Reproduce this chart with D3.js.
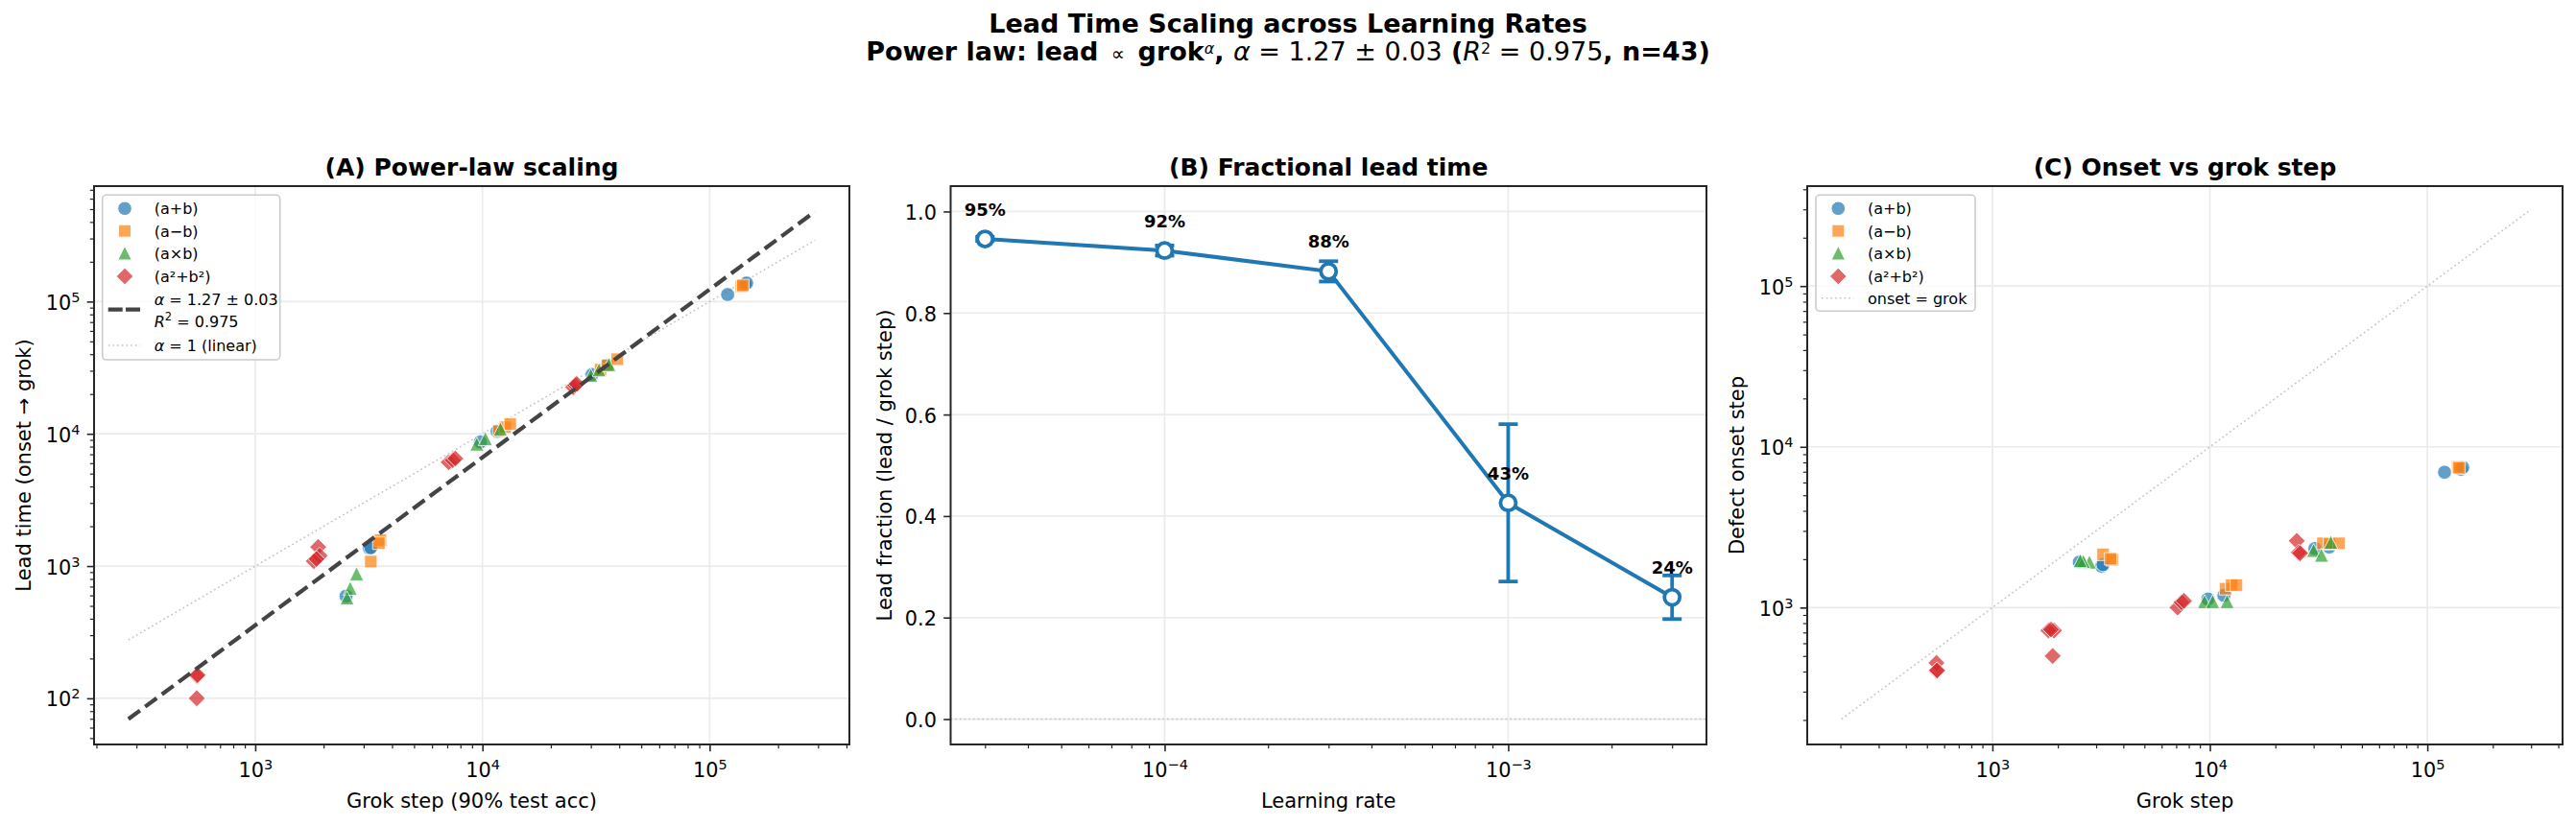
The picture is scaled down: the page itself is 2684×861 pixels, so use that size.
<!DOCTYPE html>
<html><head><meta charset="utf-8">
<script src="https://cdn.jsdelivr.net/npm/d3@7"></script>
<style>
body{margin:0;background:#fff;}
svg{display:block;font-family:"DejaVu Sans",sans-serif;}
</style></head><body>
<svg id="chart" width="2684" height="861"></svg>
<script>
// ---------------- DATA ----------------
const opNames = ["(a+b)", "(a\u2212b)", "(a\u00d7b)", "(a\u00b2+b\u00b2)"];
const opColors = ["#1f77b4", "#ff7f0e", "#2ca02c", "#d62728"];

// one entry per grokked run (n = 43)
const runOp = [0,0,0,1,1,
  3,3,3,0,0,2,2,2,1,1,1,
  3,3,3,2,2,2,0,0,1,1,1,
  3,3,3,3,2,2,2,0,0,0,1,1,1,
  3,3,3];
const runLR = [3e-5,3e-5,3e-5,3e-5,3e-5,
  1e-4,1e-4,1e-4,1e-4,1e-4,1e-4,1e-4,1e-4,1e-4,1e-4,1e-4,
  3e-4,3e-4,3e-4,3e-4,3e-4,3e-4,3e-4,3e-4,3e-4,3e-4,3e-4,
  1e-3,1e-3,1e-3,1e-3,1e-3,1e-3,1e-3,1e-3,1e-3,1e-3,1e-3,1e-3,1e-3,
  3e-3,3e-3,3e-3];
const runGrok = [120000,143000,145500,138000,140000,
  25100,25600,26000,30400,35400,30000,32600,36000,33100,35500,39200,
  7100,7400,7600,9450,10300,12000,9800,11600,11800,12600,13250,
  1893,1920,1810,1860,2793,2618,2535,2510,3177,3227,3227,3556,3500,
  553,553,557];
const runOnset = [6950,7250,7450,7500,7400,
  2600,2200,2180,2330,2380,2270,2120,2550,2510,2500,2510,
  1000,1080,1100,1090,1090,1090,1130,1190,1310,1380,1380,
  500,720,720,730,1919,1938,1960,1918,1809,1850,2145,1983,2011,
  453,405,407];

// panel B: mean lead fraction per learning rate
const lrValues = [3e-5, 1e-4, 3e-4, 1e-3, 3e-3];
const fracMean = [0.946, 0.923, 0.882, 0.426, 0.240];
const fracErr  = [0.004, 0.010, 0.020, 0.155, 0.043];

// power-law fit
const fitAlpha = 1.27, fitAlphaErr = 0.03, fitLogC = -1.258, fitR2 = 0.975;

// ---------------- LAYOUT ----------------
const svg = d3.select("#chart");
const TOP = 194, BOT = 776;
const PA = {l: 98, r: 885}, PB = {l: 990.5, r: 1778}, PC = {l: 1883, r: 2670};
const SPINE = "#262626", GRID = "#ebebeb";
const FS_TICK = 20.8;

const runs = runOp.map((o, i) => ({op: o, lr: runLR[i], grok: runGrok[i], onset: runOnset[i], lead: runGrok[i] - runOnset[i]}))
  .sort((a, b) => a.op - b.op);

function logDomain(vals) {
  const lo = Math.log10(d3.min(vals)), hi = Math.log10(d3.max(vals)), m = (hi - lo) * 0.05;
  return [10 ** (lo - m), 10 ** (hi + m)];
}
function majorTicks(dom) {
  const out = [];
  for (let e = Math.ceil(Math.log10(dom[0]) - 1e-9); e <= Math.floor(Math.log10(dom[1]) + 1e-9); e++) out.push(10 ** e);
  return out;
}
function minorTicks(dom) {
  const out = [];
  for (let e = Math.floor(Math.log10(dom[0])); e <= Math.ceil(Math.log10(dom[1])); e++)
    for (let k = 2; k <= 9; k++) { const v = k * 10 ** e; if (v >= dom[0] && v <= dom[1]) out.push(v); }
  return out;
}
function powLabels(sel) {
  sel.each(function () {
    const t = d3.select(this); const e = +t.text(); t.text(null);
    t.append("tspan").text("10");
    t.append("tspan").attr("dy", -8).attr("font-size", 14.5).text(e < 0 ? "\u2212" + (-e) : String(e));
  });
}
function styleAxis(g) {
  g.attr("font-family", null).attr("font-size", FS_TICK).attr("color", "#000");
  g.select(".domain").remove();
  g.selectAll(".tick line").attr("stroke", SPINE).attr("stroke-width", 1.6);
}
function xAxis(scale) {
  const dom = scale.domain();
  svg.append("g").attr("transform", `translate(0,${BOT})`)
    .call(d3.axisBottom(scale).tickValues(minorTicks(dom)).tickSize(4.2).tickFormat(""))
    .call(styleAxis).selectAll(".tick line").attr("stroke-width", 1.2);
  const g = svg.append("g").attr("transform", `translate(0,${BOT})`)
    .call(d3.axisBottom(scale).tickValues(majorTicks(dom)).tickSize(7.3).tickPadding(7.3)
      .tickFormat(v => Math.round(Math.log10(v))))
    .call(styleAxis);
  g.selectAll("text").attr("y", 34).attr("dy", null).call(powLabels);
}
function yAxis(scale, left, isLog, ticks, fmt) {
  const dom = scale.domain();
  if (isLog) {
    svg.append("g").attr("transform", `translate(${left},0)`)
      .call(d3.axisLeft(scale).tickValues(minorTicks(dom)).tickSize(4.2).tickFormat(""))
      .call(styleAxis).selectAll(".tick line").attr("stroke-width", 1.2);
    const g = svg.append("g").attr("transform", `translate(${left},0)`)
      .call(d3.axisLeft(scale).tickValues(majorTicks(dom)).tickSize(7.3).tickPadding(7.3)
        .tickFormat(v => Math.round(Math.log10(v))))
      .call(styleAxis);
    g.selectAll("text").attr("dy", 8).call(powLabels);
  } else {
    const g = svg.append("g").attr("transform", `translate(${left},0)`)
      .call(d3.axisLeft(scale).tickValues(ticks).tickSize(7.3).tickPadding(7.3).tickFormat(fmt))
      .call(styleAxis);
    g.selectAll("text").attr("dy", 8);
  }
}
function gridX(scale, vals) {
  svg.append("g").selectAll("line").data(vals).join("line")
    .attr("x1", d => scale(d)).attr("x2", d => scale(d)).attr("y1", TOP).attr("y2", BOT)
    .attr("stroke", GRID).attr("stroke-width", 1.7);
}
function gridY(scale, p, vals) {
  svg.append("g").selectAll("line").data(vals).join("line")
    .attr("y1", d => scale(d)).attr("y2", d => scale(d)).attr("x1", p.l).attr("x2", p.r)
    .attr("stroke", GRID).attr("stroke-width", 1.7);
}
function frame(p) {
  svg.append("rect").attr("x", p.l).attr("y", TOP).attr("width", p.r - p.l).attr("height", BOT - TOP)
    .attr("fill", "none").attr("stroke", SPINE).attr("stroke-width", 2);
}
function panelTitle(p, txt) {
  svg.append("text").attr("x", (p.l + p.r) / 2).attr("y", 183).attr("text-anchor", "middle")
    .attr("font-size", 25).attr("font-weight", "bold").text(txt);
}
function xLabel(p, txt) {
  svg.append("text").attr("x", (p.l + p.r) / 2).attr("y", 842).attr("text-anchor", "middle")
    .attr("font-size", 21).text(txt);
}
function yLabel(x, txt) {
  svg.append("text").attr("transform", `translate(${x},${(TOP + BOT) / 2}) rotate(-90)`)
    .attr("text-anchor", "middle").attr("dominant-baseline", "central").attr("font-size", 21).text(txt);
}
function shapePath(k) {
  switch (k) {
    case 0: return d3.symbol(d3.symbolCircle, Math.PI * 7.3 * 7.3)();
    case 1: return "M-6.5,-6.5H6.5V6.5H-6.5Z";
    case 2: return "M0,-7.3L7.3,7.3H-7.3Z";
    default: return "M0,-8.8L8.8,0L0,8.8L-8.8,0Z";
  }
}
function scatter(xs, ys, xKey, yKey) {
  svg.append("g").selectAll("path").data(runs).join("path")
    .attr("transform", d => `translate(${xs(d[xKey])},${ys(d[yKey])})`)
    .attr("d", d => shapePath(d.op))
    .attr("fill", d => opColors[d.op]).attr("fill-opacity", 0.7)
    .attr("stroke", "#fff").attr("stroke-opacity", 0.8).attr("stroke-width", 1);
}
function legend(x0, y0, w, h, extra) {
  const g = svg.append("g");
  g.append("rect").attr("x", x0).attr("y", y0).attr("width", w).attr("height", h).attr("rx", 4)
    .attr("fill", "#fff").attr("fill-opacity", 0.8).attr("stroke", "#cccccc").attr("stroke-width", 1.6);
  const rows = [14, 37.4, 60.4, 84.7];
  opNames.forEach((n, i) => {
    g.append("path").attr("transform", `translate(${x0 + 23.3},${y0 + rows[i]})`).attr("d", shapePath(i))
      .attr("fill", opColors[i]).attr("fill-opacity", 0.7).attr("stroke", "#fff").attr("stroke-width", 1);
    g.append("text").attr("x", x0 + 54).attr("y", y0 + rows[i]).attr("dy", 5.8).attr("font-size", 16).text(n);
  });
  extra(g);
}

// ---------------- SUPTITLE ----------------
svg.append("text").attr("x", 1342).attr("y", 34).attr("text-anchor", "middle").attr("font-size", 27)
  .attr("font-weight", "bold").text("Lead Time Scaling across Learning Rates");
{
  // second line laid out segment by segment so superscripts sit beside their bases
  const segs = [
    {t: "Power law: lead\u2002", b: true},
    {t: "\u221d", fs: 20},
    {t: "\u2002grok", b: true},
    {t: "\u03b1", i: true, fs: 16, sup: true},
    {t: ", ", b: true},
    {t: "\u03b1", i: true},
    {t: " = " + fitAlpha.toFixed(2) + " \u00b1 " + fitAlphaErr.toFixed(2)},
    {t: " (", b: true},
    {t: "R", i: true},
    {t: "2", fs: 16, sup: true},
    {t: " = " + fitR2.toFixed(3)},
    {t: ", n=" + runs.length + ")", b: true}
  ];
  const g = svg.append("g");
  const els = segs.map(s => g.append("text").attr("y", s.sup ? 56 : 63)
    .attr("font-size", s.fs || 27).attr("font-weight", s.b ? "bold" : "normal")
    .attr("font-style", s.i ? "italic" : "normal").attr("xml:space", "preserve")
    .style("white-space", "pre").text(s.t));
  const widths = els.map(e => e.node().getComputedTextLength());
  let x = 1342 - d3.sum(widths) / 2;
  els.forEach((e, k) => { e.attr("x", x); x += widths[k]; });
}

// ---------------- PANEL A ----------------
{
  const gLo = d3.min(runs, d => d.grok) * 0.5, gHi = d3.max(runs, d => d.grok) * 2;
  const fitLine = [gLo, gHi].map(g => ({x: g, y: 10 ** (fitLogC + fitAlpha * Math.log10(g))}));
  const linLine = [gLo, gHi].map(g => ({x: g, y: g}));
  const xs = d3.scaleLog().domain(logDomain([gLo, gHi, ...runs.map(d => d.grok)])).range([PA.l, PA.r]);
  const ys = d3.scaleLog().domain(logDomain([...fitLine.map(d => d.y), ...linLine.map(d => d.y), ...runs.map(d => d.lead)]))
    .range([BOT, TOP]);
  gridX(xs, majorTicks(xs.domain())); gridY(ys, PA, majorTicks(ys.domain()));
  const line = d3.line().x(d => xs(d.x)).y(d => ys(d.y));
  svg.append("path").attr("d", line(linLine)).attr("fill", "none").attr("stroke", "#c4c4c4")
    .attr("stroke-width", 1.6).attr("stroke-dasharray", "1.7,3");
  scatter(xs, ys, "grok", "lead");
  svg.append("path").attr("d", line(fitLine)).attr("fill", "none").attr("stroke", "#444444")
    .attr("stroke-width", 4.2).attr("stroke-dasharray", "15,6.7");
  frame(PA);
  xAxis(xs); yAxis(ys, PA.l, true);
  panelTitle(PA, "(A) Power-law scaling");
  xLabel(PA, "Grok step (90% test acc)");
  yLabel(25, "Lead time (onset \u2192 grok)");
  legend(106.7, 203.3, 185, 171.7, g => {
    const x0 = 106.7, y0 = 203.3;
    g.append("line").attr("x1", x0 + 6).attr("x2", x0 + 39.3).attr("y1", y0 + 119.4).attr("y2", y0 + 119.4)
      .attr("stroke", "#444444").attr("stroke-width", 4.2).attr("stroke-dasharray", "15,3.3");
    const t1 = g.append("text").attr("x", x0 + 54).attr("y", y0 + 108.4).attr("dy", 5.8).attr("font-size", 16);
    t1.append("tspan").attr("font-style", "italic").text("\u03b1");
    t1.append("tspan").text(" = " + fitAlpha.toFixed(2) + " \u00b1 " + fitAlphaErr.toFixed(2));
    const t2 = g.append("text").attr("x", x0 + 54).attr("y", y0 + 131.4).attr("dy", 5.8).attr("font-size", 16);
    t2.append("tspan").attr("font-style", "italic").text("R");
    t2.append("tspan").attr("font-size", 11.5).attr("dy", -7).text("2");
    t2.append("tspan").attr("dy", 7).text(" = " + fitR2.toFixed(3));
    g.append("line").attr("x1", x0 + 6).attr("x2", x0 + 39.3).attr("y1", y0 + 156.7).attr("y2", y0 + 156.7)
      .attr("stroke", "#c4c4c4").attr("stroke-width", 1.6).attr("stroke-dasharray", "1.7,3");
    const t3 = g.append("text").attr("x", x0 + 54).attr("y", y0 + 156.7).attr("dy", 5.8).attr("font-size", 16);
    t3.append("tspan").attr("font-style", "italic").text("\u03b1");
    t3.append("tspan").text(" = 1 (linear)");
  });
}

// ---------------- PANEL B ----------------
{
  const xs = d3.scaleLog().domain(logDomain(lrValues)).range([PB.l, PB.r]);
  const ys = d3.scaleLinear().domain([-0.05, 1.05]).range([BOT, TOP]);
  const yt = [0, 0.2, 0.4, 0.6, 0.8, 1.0];
  gridX(xs, majorTicks(xs.domain())); gridY(ys, PB, yt);
  svg.append("line").attr("x1", PB.l).attr("x2", PB.r).attr("y1", ys(0)).attr("y2", ys(0))
    .attr("stroke", "#c4c4c4").attr("stroke-width", 1.6).attr("stroke-dasharray", "1.7,3");
  const pts = lrValues.map((lr, i) => ({lr, m: fracMean[i], e: fracErr[i]}));
  const col = "#1f77b4";
  const eb = svg.append("g").attr("stroke", col).attr("stroke-width", 3.8);
  eb.selectAll(".v").data(pts).join("line").attr("x1", d => xs(d.lr)).attr("x2", d => xs(d.lr))
    .attr("y1", d => ys(d.m - d.e)).attr("y2", d => ys(d.m + d.e));
  eb.selectAll(".c1").data(pts).join("line").attr("x1", d => xs(d.lr) - 10).attr("x2", d => xs(d.lr) + 10)
    .attr("y1", d => ys(d.m - d.e)).attr("y2", d => ys(d.m - d.e));
  eb.selectAll(".c2").data(pts).join("line").attr("x1", d => xs(d.lr) - 10).attr("x2", d => xs(d.lr) + 10)
    .attr("y1", d => ys(d.m + d.e)).attr("y2", d => ys(d.m + d.e));
  svg.append("path").attr("d", d3.line().x(d => xs(d.lr)).y(d => ys(d.m))(pts))
    .attr("fill", "none").attr("stroke", col).attr("stroke-width", 4);
  svg.append("g").selectAll("circle").data(pts).join("circle")
    .attr("cx", d => xs(d.lr)).attr("cy", d => ys(d.m)).attr("r", 8)
    .attr("fill", "#fff").attr("stroke", col).attr("stroke-width", 3.8);
  svg.append("g").selectAll("text").data(pts).join("text")
    .attr("x", d => xs(d.lr)).attr("y", d => ys(d.m) - 24.5).attr("text-anchor", "middle")
    .attr("font-size", 18).attr("font-weight", "bold").text(d => Math.round(d.m * 100) + "%");
  frame(PB);
  xAxis(xs);
  yAxis(ys, PB.l, false, yt, d3.format(".1f"));
  panelTitle(PB, "(B) Fractional lead time");
  xLabel(PB, "Learning rate");
  yLabel(922, "Lead fraction (lead / grok step)");
}

// ---------------- PANEL C ----------------
{
  const all = [...runs.map(d => d.grok), ...runs.map(d => d.onset)];
  const lo = d3.min(all) * 0.5, hi = d3.max(all) * 2;
  const ref = [lo, hi].map(v => ({x: v, y: v}));
  const xs = d3.scaleLog().domain(logDomain([lo, hi, ...runs.map(d => d.grok)])).range([PC.l, PC.r]);
  const ys = d3.scaleLog().domain(logDomain([lo, hi, ...runs.map(d => d.onset)])).range([BOT, TOP]);
  gridX(xs, majorTicks(xs.domain())); gridY(ys, PC, majorTicks(ys.domain()));
  svg.append("path").attr("d", d3.line().x(d => xs(d.x)).y(d => ys(d.y))(ref)).attr("fill", "none")
    .attr("stroke", "#c4c4c4").attr("stroke-width", 1.6).attr("stroke-dasharray", "1.7,3");
  scatter(xs, ys, "grok", "onset");
  frame(PC);
  xAxis(xs); yAxis(ys, PC.l, true);
  panelTitle(PC, "(C) Onset vs grok step");
  xLabel(PC, "Grok step");
  yLabel(1810, "Defect onset step");
  legend(1892, 203.3, 166, 121, g => {
    const x0 = 1892, y0 = 203.3;
    g.append("line").attr("x1", x0 + 6).attr("x2", x0 + 39.3).attr("y1", y0 + 107.4).attr("y2", y0 + 107.4)
      .attr("stroke", "#c4c4c4").attr("stroke-width", 1.6).attr("stroke-dasharray", "1.7,3");
    g.append("text").attr("x", x0 + 54).attr("y", y0 + 107.4).attr("dy", 5.8).attr("font-size", 16).text("onset = grok");
  });
}
</script>
</body></html>
